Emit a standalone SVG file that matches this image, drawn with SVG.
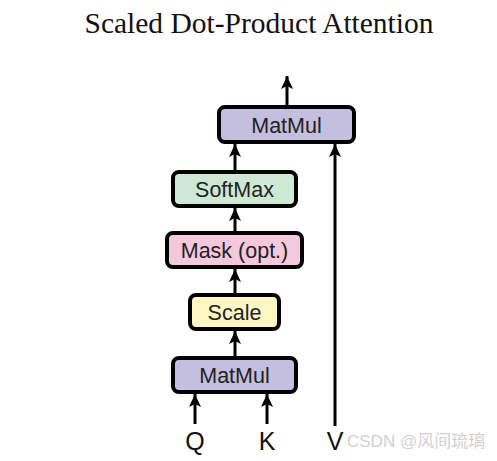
<svg xmlns="http://www.w3.org/2000/svg" width="497" height="461" viewBox="0 0 497 461">
<style>
.box{stroke:#000;stroke-width:4}
.lbl{font-family:"Liberation Sans",Arial,sans-serif;font-size:21.5px;fill:#222;text-anchor:middle}
.io{font-family:"Liberation Sans",Arial,sans-serif;font-size:25px;fill:#111;text-anchor:middle}
.title{font-family:"Liberation Serif","Times New Roman",serif;font-size:29.5px;fill:#111;text-anchor:middle}
.edge{stroke:#000;stroke-width:3;fill:none}
.wm{font-family:"Liberation Sans","Noto Sans CJK SC",sans-serif;font-size:17px;fill:#c8c8c8;fill-opacity:0.85}
</style>
<defs>
<marker id="ah" markerUnits="userSpaceOnUse" markerWidth="14" markerHeight="12" refX="13" refY="6" orient="auto" viewBox="0 0 14 12">
<path d="M0,0 L13,6 L0,12 L3,6 Z" fill="#000"/>
</marker>
</defs>
<rect width="497" height="461" fill="#fff"/>
<text class="title" x="259" y="33">Scaled Dot-Product Attention</text>
<g id="connectors">
<line class="edge" x1="287" y1="106" x2="287" y2="76" marker-end="url(#ah)"/>
<line class="edge" x1="235" y1="171" x2="235" y2="144" marker-end="url(#ah)"/>
<line class="edge" x1="235" y1="232" x2="235" y2="208" marker-end="url(#ah)"/>
<line class="edge" x1="235" y1="294" x2="235" y2="269" marker-end="url(#ah)"/>
<line class="edge" x1="235" y1="357" x2="235" y2="331" marker-end="url(#ah)"/>
<line class="edge" x1="195" y1="424" x2="195" y2="394" marker-end="url(#ah)"/>
<line class="edge" x1="267" y1="424" x2="267" y2="394" marker-end="url(#ah)"/>
<line class="edge" x1="335" y1="426" x2="335" y2="144" marker-end="url(#ah)"/>
</g>
<g id="matmul-top">
<rect class="box" x="219" y="107" width="135" height="35" rx="6" fill="#c4bedf"/>
<text class="lbl" x="286.5" y="133">MatMul</text>
</g>
<g id="softmax">
<rect class="box" x="173" y="172" width="123" height="34" rx="6" fill="#cfe8d5"/>
<text class="lbl" x="234.5" y="197">SoftMax</text>
</g>
<g id="mask">
<rect class="box" x="167" y="233" width="135" height="34" rx="6" fill="#f5c8dc"/>
<text class="lbl" x="234.5" y="258">Mask (opt.)</text>
</g>
<g id="scale">
<rect class="box" x="190" y="295" width="89" height="34" rx="6" fill="#fdf7c3"/>
<text class="lbl" x="234.5" y="320">Scale</text>
</g>
<g id="matmul-bottom">
<rect class="box" x="173" y="358" width="123" height="34" rx="6" fill="#c4bedf"/>
<text class="lbl" x="234.5" y="383">MatMul</text>
</g>
<g id="inputs">
<text class="io" x="195" y="450">Q</text>
<text class="io" x="267" y="450">K</text>
<text class="io" x="335" y="450">V</text>
</g>
<text class="wm" x="347" y="447">CSDN @风间琉璃</text>
</svg>
